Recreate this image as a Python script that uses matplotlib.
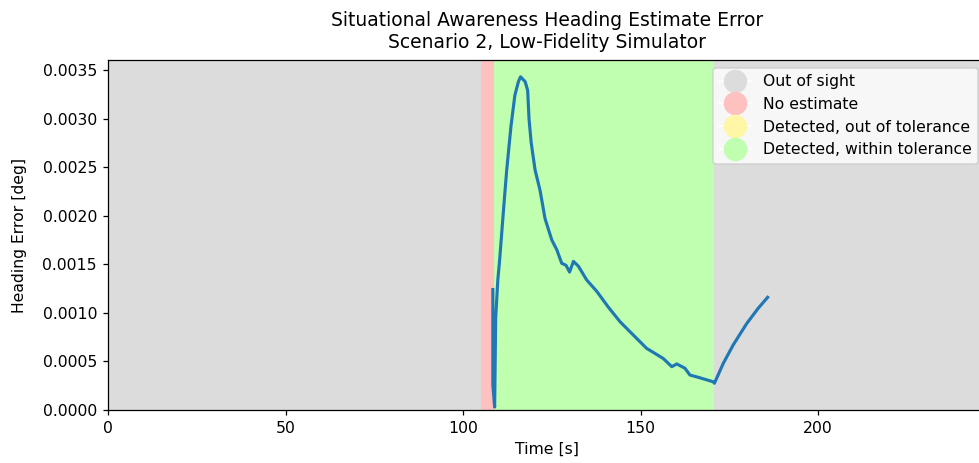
import matplotlib
matplotlib.use("Agg")
import matplotlib.pyplot as plt
from matplotlib.lines import Line2D

# Time-series of heading error
time_s = [108.4, 108.4, 108.9, 109.2, 109.8, 110.3, 111.4, 112.3, 113.5,
          114.6, 115.6, 116.2, 117.5, 118.2, 118.6, 119.2, 120.3, 121.7, 123.1,
          125.0, 126.4, 127.8, 129.0, 130.0, 131.1, 132.5, 134.8, 137.7, 140.9,
          144.2, 148.0, 151.7, 156.4, 158.8, 160.2, 162.5, 163.9, 166.3, 170.5,
          170.8, 173.3, 176.1, 179.9, 183.2, 185.8]
heading_err = [0.00124, 0.000257, 0.00003, 0.00095, 0.00134, 0.00154, 0.00206, 0.00247, 0.00292,
               0.00324, 0.00338, 0.00343, 0.00338, 0.00329, 0.00299, 0.00275, 0.00247, 0.00226, 0.00197,
               0.00175, 0.00165, 0.00151, 0.00149, 0.00142, 0.00153, 0.00148, 0.00134, 0.00122, 0.00106,
               0.00091, 0.00077, 0.000635, 0.00053, 0.000446, 0.000474, 0.00043, 0.00036, 0.000336, 0.00029,
               0.000275, 0.00048, 0.00067, 0.00089, 0.00105, 0.00116]

# Status regions (start, end, status index)
region_start = [0.0, 105.1, 108.6, 170.8]
region_end = [105.1, 108.6, 170.8, 250.0]
region_status = [0, 1, 3, 0]

status_labels = ["Out of sight", "No estimate", "Detected, out of tolerance", "Detected, within tolerance"]
status_colors = ["#dcdcdc", "#ffc0c0", "#fff6a6", "#c0ffb0"]

DPI = 112.5
fig = plt.figure(figsize=(979 / DPI, 463 / DPI), dpi=DPI)
ax = fig.add_axes([108 / 979, (463 - 410) / 463, (986 - 108) / 979, 350 / 463])

for s, e, st in zip(region_start, region_end, region_status):
    ax.axvspan(s, e, color=status_colors[st], lw=0, zorder=0)

ax.plot(time_s, heading_err, color="#1f77b4", lw=2, zorder=3)

ax.set_xlim(0, 247.3)
ax.set_ylim(0, 0.003603)
ax.set_xticks([0, 50, 100, 150, 200])
yt = [0.0, 0.0005, 0.0010, 0.0015, 0.0020, 0.0025, 0.0030, 0.0035]
ax.set_yticks(yt)
ax.set_yticklabels([f"{v:.4f}" for v in yt])
ax.set_xlabel("Time [s]")
ax.set_ylabel("Heading Error [deg]", labelpad=10)
ax.set_title("Situational Awareness Heading Estimate Error\nScenario 2, Low-Fidelity Simulator", pad=8)
ax.spines["right"].set_visible(False)

handles = [Line2D([0], [0], color="w", marker="o", markersize=14,
                  markerfacecolor=c, markeredgecolor=c, lw=1) for c in status_colors]
ax.legend(handles, status_labels, loc="upper right")

fig.savefig("out.png", dpi=DPI)
